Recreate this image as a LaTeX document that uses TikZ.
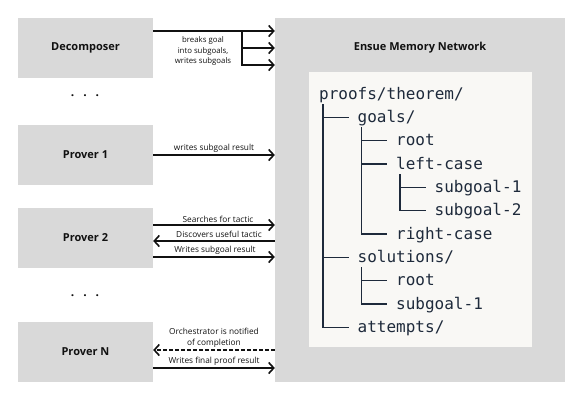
\documentclass[tikz,border=0pt]{standalone}
\usepackage{fontspec}
\setmainfont{Open Sans}
\setmonofont{DejaVu Sans Mono}
\usetikzlibrary{arrows.meta,calc}
\definecolor{boxgray}{HTML}{D9D9D9}
\definecolor{paper}{HTML}{F9F8F5}
\definecolor{navy}{HTML}{1E2A3B}
\definecolor{ink}{HTML}{111111}
\begin{document}
\begin{tikzpicture}[x=1pt,y=-1pt,
  agent/.style={draw=none,fill=boxgray,minimum width=135pt,minimum height=60pt,inner sep=0pt,
    font=\fontsize{11}{13}\selectfont\bfseries,text=ink},
  lbl/.style={inner sep=0pt,align=center,font=\fontsize{8.3}{10.5}\selectfont,text=ink},
  arr/.style={line width=1.6pt,draw=ink,-{Straight Barb[length=5pt,width=11pt]}},
  leaf/.style={anchor=base west,inner sep=0pt,font=\fontsize{16}{18}\ttfamily,text=navy},
  tree/.style={line width=1.4pt,draw=navy},
  dots/.style={inner sep=0pt,font=\fontsize{12}{14}\selectfont\bfseries,text=ink}]
\useasboundingbox (0,0) rectangle (584,400);
\fill[white] (0,0) rectangle (584,400);

% memory network
\node[fill=boxgray,minimum width=290pt,minimum height=364pt,inner sep=0pt] (mem) at (420,200) {};
\node[inner sep=0pt,font=\fontsize{11}{13}\selectfont\bfseries,text=ink] (title) at (420,48) {Ensue Memory Network};
\node[fill=paper,minimum width=223pt,minimum height=275pt,inner sep=0pt] (store) at (420.5,209.5) {};

% agents
\node[agent] (dec) at (85.5,48) {Decomposer};
\node[agent] (p1) at (85.5,154.5) {Prover 1};
\node[agent] (p2) at (85.5,238) {Prover 2};
\node[agent] (pn) at (85.5,352) {Prover N};
\node[dots] (d1) at (85,96) {.\hspace{9pt}.\hspace{9pt}.};
\node[dots] (d2) at (85,296) {.\hspace{9pt}.\hspace{9pt}.};

% decomposer arrows
\coordinate (ja) at (242,31);
\coordinate (jb) at (242,48);
\coordinate (jc) at (242,65);
\draw[arr] (dec.east |- ja) -- (mem.west |- ja);
\draw[arr] (jb) -- (mem.west |- jb);
\draw[arr] (ja) |- (mem.west |- jc);
\node[lbl,font=\fontsize{7.8}{10.6}\selectfont] (ldec) at (203,51) {breaks goal\\into subgoals,\\writes subgoals};

% prover 1
\coordinate (y1) at (0,155);
\draw[arr] (p1.east |- y1) -- (mem.west |- y1);
\node[lbl] (lp1) at (214,148) {writes subgoal result};

% prover 2
\coordinate (y2a) at (0,225);
\coordinate (y2b) at (0,241);
\coordinate (y2c) at (0,257);
\draw[arr] (p2.east |- y2a) -- (mem.west |- y2a);
\draw[arr] (mem.west |- y2b) -- (p2.east |- y2b);
\draw[arr] (p2.east |- y2c) -- (mem.west |- y2c);
\node[lbl] (lp2a) at (218,219) {Searches for tactic};
\node[lbl] (lp2b) at (219,234.5) {Discovers useful tactic};
\node[lbl] (lp2c) at (215,250) {Writes subgoal result};

% prover N
\coordinate (yna) at (0,350);
\coordinate (ynb) at (0,368);
\draw[arr,dash pattern=on 3.5pt off 2.5pt] (mem.west |- yna) -- (pn.east |- yna);
\draw[arr] (pn.east |- ynb) -- (mem.west |- ynb);
\node[lbl] (lpna) at (214,338) {Orchestrator is notified\\of completion};
\node[lbl] (lpnb) at (214,361.5) {Writes final proof result};

% tree
\node[leaf] (t0) at (319,99) {proofs/theorem/};
\node[leaf] (t1) at (357.5,122.3) {goals/};
\node[leaf] (t2) at (396,145.6) {root};
\node[leaf] (t3) at (396,169) {left-case};
\node[leaf] (t4) at (434.5,192.3) {subgoal-1};
\node[leaf] (t5) at (434.5,215.6) {subgoal-2};
\node[leaf] (t6) at (396,239) {right-case};
\node[leaf] (t7) at (357.5,262.3) {solutions/};
\node[leaf] (t8) at (396,285.6) {root};
\node[leaf] (t9) at (396,309) {subgoal-1};
\node[leaf] (t10) at (357.5,332.3) {attempts/};

\draw[tree] ($(t0.base west)+(4,5)$) |- ($(t10.base west)+(-9,-5)$);
\draw[tree] ($(t1.base west)+(-34.5,-5)$) -- ($(t1.base west)+(-9,-5)$);
\draw[tree] ($(t7.base west)+(-34.5,-5)$) -- ($(t7.base west)+(-9,-5)$);

\draw[tree] ($(t1.base west)+(4,5)$) |- ($(t6.base west)+(-9,-5)$);
\draw[tree] ($(t2.base west)+(-34.5,-5)$) -- ($(t2.base west)+(-9,-5)$);
\draw[tree] ($(t3.base west)+(-34.5,-5)$) -- ($(t3.base west)+(-9,-5)$);

\draw[tree] ($(t3.base west)+(4,5)$) |- ($(t5.base west)+(-9,-5)$);
\draw[tree] ($(t4.base west)+(-34.5,-5)$) -- ($(t4.base west)+(-9,-5)$);

\draw[tree] ($(t7.base west)+(4,5)$) |- ($(t9.base west)+(-9,-5)$);
\draw[tree] ($(t8.base west)+(-34.5,-5)$) -- ($(t8.base west)+(-9,-5)$);
\end{tikzpicture}
\end{document}
